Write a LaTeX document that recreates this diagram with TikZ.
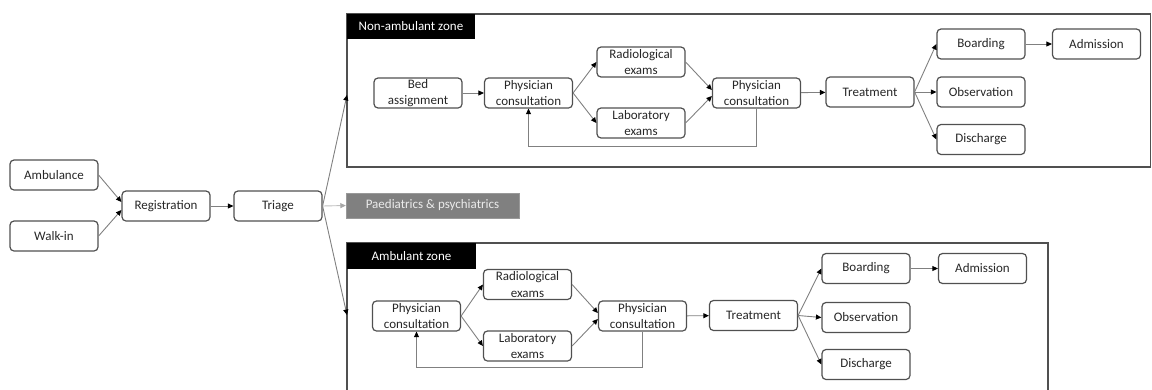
\documentclass[tikz,border=0pt]{standalone}
\usepackage{fontspec}
\setmainfont{Carlito}
\usetikzlibrary{arrows.meta,calc}
\definecolor{edgegray}{HTML}{808080}
\definecolor{boxgray}{HTML}{505050}
\definecolor{txt}{HTML}{262626}
\definecolor{paedgray}{HTML}{808080}
\tikzset{
  stepbox/.style={draw=boxgray, line width=1.2pt, rounded corners=4pt, minimum width=88pt, minimum height=30pt,
    inner sep=0pt, align=center, text=txt, font=\fontsize{13}{16.5}\selectfont},
  arr/.style={draw=edgegray, line width=0.9pt, -{Triangle[length=5.5pt,width=5pt,color=black]}},
  zone/.style={draw=boxgray, line width=1.5pt},
  zonelabel/.style={fill=black, text=white, inner sep=0pt, font=\fontsize{13}{15.5}\selectfont},
}
\begin{document}
\begin{tikzpicture}[x=1pt,y=-1pt]
\useasboundingbox (0,0) rectangle (1152,389);
\clip (0,0) rectangle (1152,389);
% zone boxes
\draw[zone] (347,14) rectangle (1150.5,167);
\node[zonelabel, minimum width=128pt, minimum height=25pt] (nazlabel) at (411,26.5) {Non-ambulant zone};
\draw[zone] (347,243) rectangle (1048,400);
\node[zonelabel, minimum width=129pt, minimum height=26pt] (azlabel) at (411.5,256) {Ambulant zone};
\coordinate (nazin) at (347,95);
\coordinate (azin) at (347,315);

% left part
\node[stepbox] (amb) at (54,175) {Ambulance};
\node[stepbox] (walk) at (54,236) {Walk-in};
\node[stepbox] (reg) at (166,206) {Registration};
\node[stepbox] (tri) at (278,206) {Triage};
\node[fill=paedgray, draw=paedgray!80, minimum width=173pt, minimum height=25pt, inner sep=0pt,
  text=white!92!black, font=\fontsize{13}{15.5}\selectfont] (paed) at (432.5,205.5) {Paediatrics \& psychiatrics};

\draw[arr] (amb.east) -- ([yshift=4pt]reg.west);
\draw[arr] (walk.east) -- ([yshift=-4pt]reg.west);
\draw[arr] (reg) -- (tri);
\draw[arr] (tri.east) -- (nazin);
\draw[arr] (tri.east) -- (azin);
\draw[draw=edgegray!50, line width=0.9pt, -{Triangle[length=5.5pt,width=5pt,color=edgegray!70]}] (tri.east) -- (paed.west);

% non-ambulant zone
\node[stepbox] (bed) at (418,93) {Bed\\assignment};
\node[stepbox] (pc1) at (528.5,93) {Physician\\consultation};
\node[stepbox] (rad1) at (641,62) {Radiological\\exams};
\node[stepbox] (lab1) at (641,123) {Laboratory\\exams};
\node[stepbox] (pc2) at (756.5,93) {Physician\\consultation};
\node[stepbox] (trt1) at (870,92) {Treatment};
\node[stepbox] (brd1) at (981,44) {Boarding};
\node[stepbox] (adm1) at (1096.5,44) {Admission};
\node[stepbox] (obs1) at (981,92) {Observation};
\node[stepbox] (dis1) at (981,139.5) {Discharge};

\draw[arr] (bed) -- (pc1);
\draw[arr] (pc1.east) -- (rad1.west);
\draw[arr] (pc1.east) -- (lab1.west);
\draw[arr] (rad1.east) -- ([yshift=3pt]pc2.west);
\draw[arr] (lab1.east) -- ([yshift=-3pt]pc2.west);
\draw[arr] (pc2.south) -- ++(0,38) -| (pc1.south);
\draw[arr] (pc2) -- (trt1);
\draw[arr] (trt1.east) -- (brd1.west);
\draw[arr] (trt1.east) -- (obs1.west);
\draw[arr] (trt1.east) -- (dis1.west);
\draw[arr] (brd1) -- (adm1);

% ambulant zone
\node[stepbox] (pca) at (416.5,316) {Physician\\consultation};
\node[stepbox] (rad2) at (527.5,284.5) {Radiological\\exams};
\node[stepbox] (lab2) at (527.5,346) {Laboratory\\exams};
\node[stepbox] (pcb) at (642.5,316) {Physician\\consultation};
\node[stepbox] (trt2) at (753.5,315.5) {Treatment};
\node[stepbox] (brd2) at (866,268.5) {Boarding};
\node[stepbox] (adm2) at (982.5,268.5) {Admission};
\node[stepbox] (obs2) at (866,317.5) {Observation};
\node[stepbox] (dis2) at (866,364.5) {Discharge};

\draw[arr] (pca.east) -- (rad2.west);
\draw[arr] (pca.east) -- (lab2.west);
\draw[arr] (rad2.east) -- ([yshift=3pt]pcb.west);
\draw[arr] (lab2.east) -- ([yshift=-3pt]pcb.west);
\draw[arr] (pcb.south) -- ++(0,36) -| (pca.south);
\draw[arr] (pcb) -- (trt2);
\draw[arr] (trt2.east) -- (brd2.west);
\draw[arr] (trt2.east) -- (obs2.west);
\draw[arr] (trt2.east) -- (dis2.west);
\draw[arr] (brd2) -- (adm2);
\end{tikzpicture}
\end{document}
